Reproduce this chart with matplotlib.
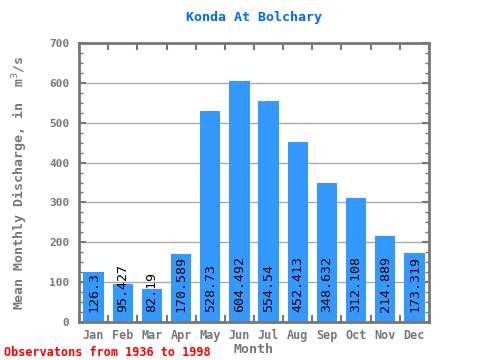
import numpy as np
import matplotlib
matplotlib.use("Agg")
import matplotlib.pyplot as plt
from matplotlib.ticker import MultipleLocator

months = ["Jan", "Feb", "Mar", "Apr", "May", "Jun", "Jul", "Aug", "Sep", "Oct", "Nov", "Dec"]
discharge = [126.3, 95.427, 82.19, 170.589, 528.73, 604.492, 554.54, 452.413, 348.632, 312.108, 214.889, 173.319]
labels = ["126.3", "95.427", "82.19", "170.589", "528.73", "604.492", "554.54", "452.413", "348.632", "312.108", "214.889", "173.319"]

plt.rcParams['font.family'] = ['DejaVu Sans Mono']
grey = "#777777"

fig = plt.figure(figsize=(4.8, 3.6), dpi=100)
ax = fig.add_axes([79/480, 1 - 322/360, 350/480, 279/360])

x = np.arange(len(months))
ax.bar(x, discharge, width=0.7, color="#3399ff", zorder=2)
for xi, lab in zip(x, labels):
    ax.text(xi, 24, lab, rotation=90, ha="center", va="bottom", fontsize=9.5, color="black", zorder=3)

ax.set_xlim(-0.5, 11.5)
ax.set_ylim(0, 700)
ax.yaxis.set_major_locator(MultipleLocator(100))
ax.yaxis.set_minor_locator(MultipleLocator(25))
ax.grid(axis="y", color="#aaaaaa", linewidth=1, zorder=1)
ax.set_xticks(x)
ax.set_xticklabels(months)
ax.set_xticks(np.arange(-0.5, 12, 1), minor=True)

for sp in ax.spines.values():
    sp.set_color(grey)
    sp.set_linewidth(2)

ax.tick_params(axis="x", which="major", length=0, pad=5, labelsize=8.5, labelcolor=grey)
ax.tick_params(axis="x", which="minor", length=5, width=1.5, color=grey, direction="in", top=True, bottom=True)
ax.tick_params(axis="y", which="major", length=5, width=1.5, color=grey, direction="in", right=True,
               labelsize=8, labelcolor=grey, pad=7)
ax.tick_params(axis="y", which="minor", length=3, width=1, color=grey, direction="in", right=True)
for t in ax.get_xticklabels() + ax.get_yticklabels():
    t.set_fontweight("bold")

ax.set_xlabel("Month", fontsize=9.5, fontweight="bold", color=grey, labelpad=1)
ax.set_ylabel("Mean Monthly Discharge, in  m$^{3}$/s", fontsize=9.5, fontweight="bold", color=grey, labelpad=14)
fig.text(0.5 * (79 + 429) / 480, 1 - 18/360, "Konda At Bolchary", ha="center", va="center",
         fontsize=9.5, fontweight="bold", color="#0066ff")
fig.text(4/480, 1 - 352/360, "Observatons from 1936 to 1998", ha="left", va="center",
         fontsize=8.5, fontweight="bold", color="red")

fig.savefig("out.png", dpi=100)
